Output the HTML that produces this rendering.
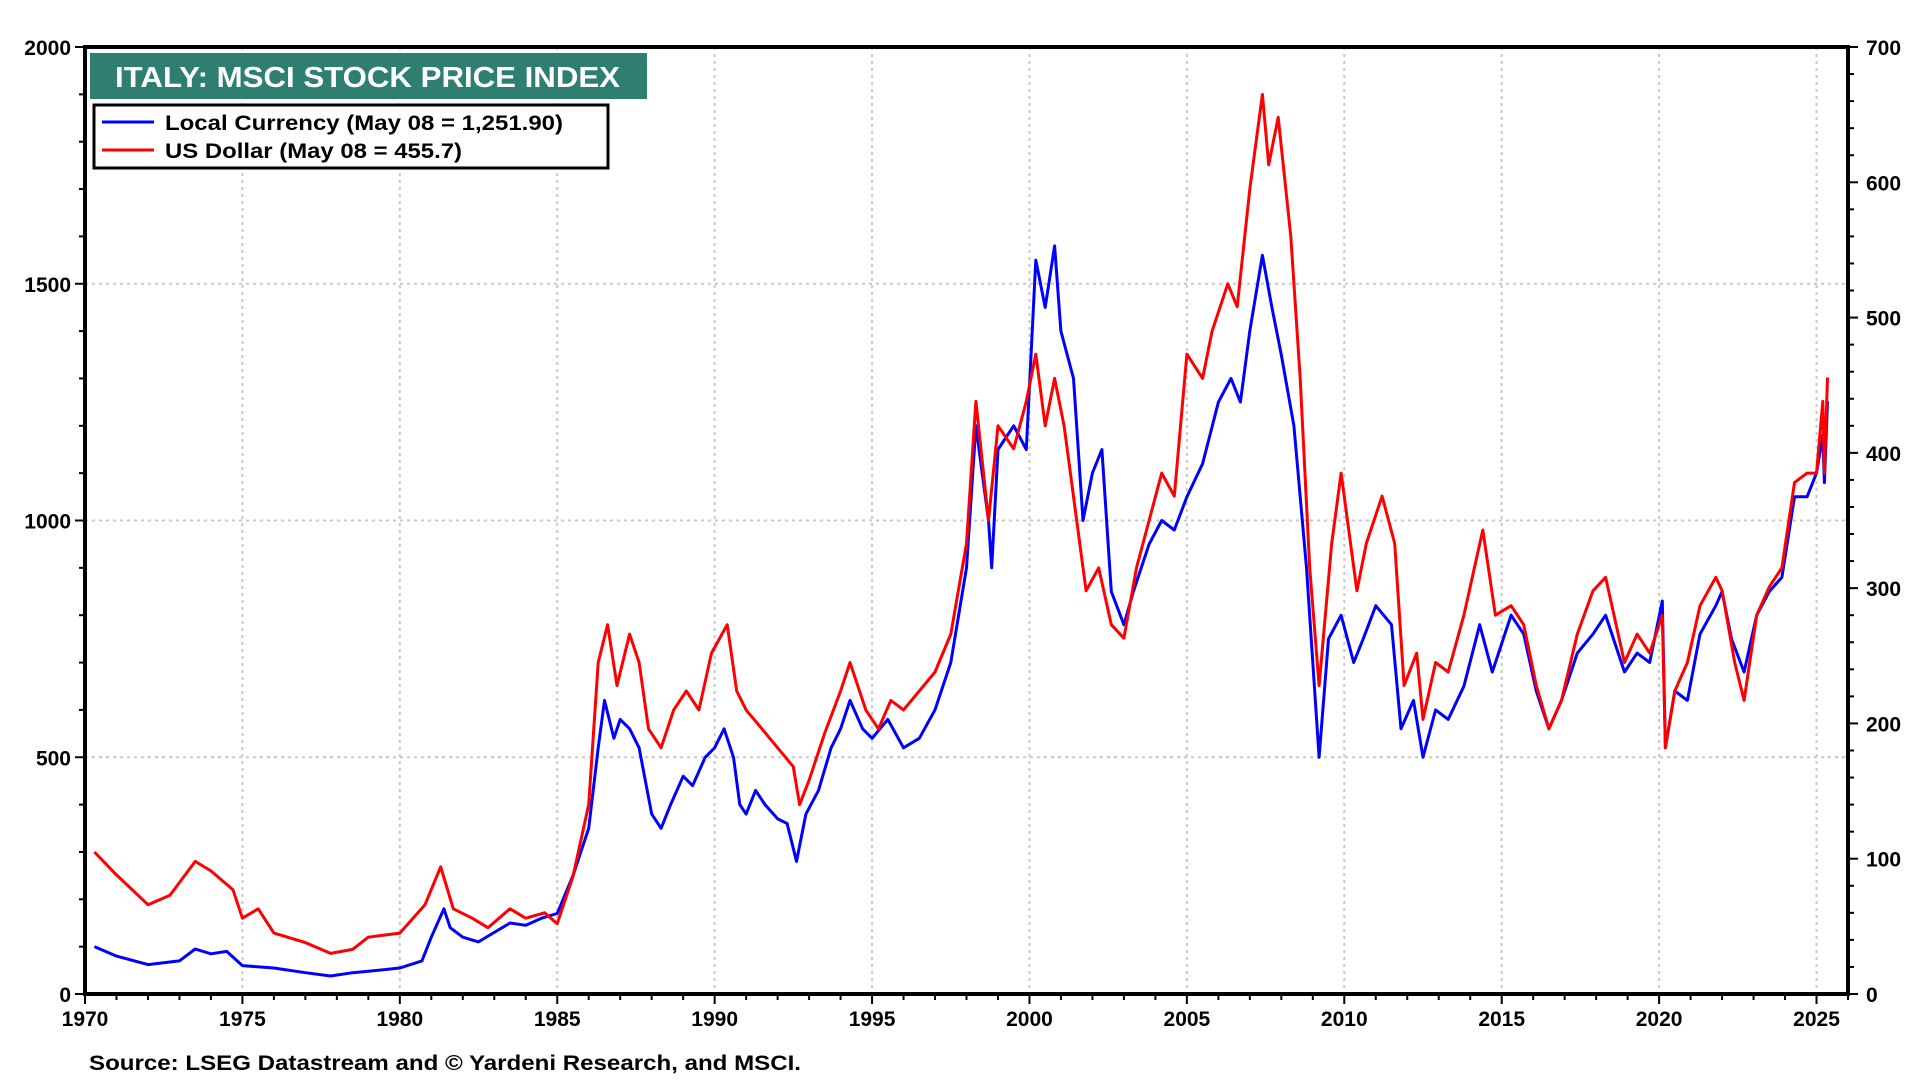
<!DOCTYPE html>
<html><head><meta charset="utf-8"><style>
html,body{margin:0;padding:0;background:#fff;width:1920px;height:1080px;overflow:hidden}
svg{display:block;font-family:"Liberation Sans",Arial,sans-serif;font-weight:bold}
</style></head><body>
<svg id="chart" width="1920" height="1080" viewBox="0 0 1920 1080">
<g id="grid"></g>
<g id="series"></g>
<g id="axes"></g>
<g>
<rect x="90" y="53" width="557" height="46" fill="#2e7f72"/>
<text x="115" y="87" font-size="29" fill="#fff" textLength="505" lengthAdjust="spacingAndGlyphs">ITALY: MSCI STOCK PRICE INDEX</text>
</g>
<g>
<rect x="94" y="105" width="514" height="63" fill="#fff" stroke="#000" stroke-width="3"/>
<g>
<line x1="102" y1="122" x2="154" y2="122" stroke="#0000ff" stroke-width="3"/>
<text x="165" y="130" font-size="21" textLength="398" lengthAdjust="spacingAndGlyphs">Local Currency (May 08 = 1,251.90)</text></g>
<g>
<line x1="102" y1="150" x2="154" y2="150" stroke="#ff0000" stroke-width="3"/>
<text x="165" y="158" font-size="21" textLength="297" lengthAdjust="spacingAndGlyphs">US Dollar (May 08 = 455.7)</text></g>
</g>
<text x="89" y="1070" font-size="21" textLength="712" lengthAdjust="spacingAndGlyphs">Source: LSEG Datastream and © Yardeni Research, and MSCI.</text>
</svg>
<script>
const localYears=[1970.3,1971,1972,1973,1973.5,1974,1974.5,1975,1976,1977,1977.8,1978.5,1979,1980,1980.7,1981,1981.4,1981.6,1982,1982.5,1983,1983.5,1984,1984.5,1985,1985.5,1986,1986.3,1986.5,1986.8,1987,1987.3,1987.6,1988,1988.3,1988.6,1989,1989.3,1989.7,1990,1990.3,1990.6,1990.8,1991,1991.3,1991.6,1992,1992.3,1992.6,1992.9,1993.3,1993.7,1994,1994.3,1994.7,1995,1995.5,1996,1996.5,1997,1997.5,1998,1998.3,1998.7,1998.8,1999,1999.5,1999.9,2000.2,2000.5,2000.8,2001,2001.4,2001.7,2002,2002.3,2002.6,2003,2003.3,2003.8,2004.2,2004.6,2005,2005.5,2006,2006.4,2006.7,2007,2007.4,2007.7,2008,2008.4,2008.8,2009.2,2009.5,2009.9,2010.3,2010.6,2011,2011.5,2011.8,2012.2,2012.5,2012.9,2013.3,2013.8,2014.3,2014.7,2015.3,2015.7,2016.1,2016.5,2016.9,2017.4,2017.9,2018.3,2018.9,2019.3,2019.7,2020.1,2020.2,2020.5,2020.9,2021.3,2021.8,2022.0,2022.3,2022.7,2023.1,2023.5,2023.9,2024.3,2024.7,2025.0,2025.2,2025.25,2025.35];
const localValues=[100,80,62,70,95,85,90,60,55,45,38,45,48,55,70,120,180,140,120,110,130,150,145,160,170,250,350,520,620,540,580,560,520,380,350,400,460,440,500,520,560,500,400,380,430,400,370,360,280,380,430,520,560,620,560,540,580,520,540,600,700,900,1200,1000,900,1150,1200,1150,1550,1450,1580,1400,1300,1000,1100,1150,850,780,850,950,1000,980,1050,1120,1250,1300,1250,1400,1560,1450,1350,1200,900,500,750,800,700,750,820,780,560,620,500,600,580,650,780,680,800,760,640,560,620,720,760,800,680,720,700,830,520,640,620,760,820,850,750,680,800,850,880,1050,1050,1100,1180,1080,1252];
const usdYears=[1970.3,1971,1972,1972.7,1973.5,1974,1974.7,1975,1975.5,1976,1977,1977.8,1978.5,1979,1980,1980.8,1981.3,1981.7,1982.3,1982.8,1983.5,1984,1984.6,1985,1985.5,1986,1986.3,1986.6,1986.9,1987.3,1987.6,1987.9,1988.3,1988.7,1989.1,1989.5,1989.9,1990.4,1990.7,1991,1991.5,1992,1992.5,1992.7,1993,1993.5,1994,1994.3,1994.8,1995.2,1995.6,1996,1996.5,1997,1997.5,1998,1998.3,1998.7,1999,1999.5,1999.9,2000.2,2000.5,2000.8,2001.1,2001.5,2001.8,2002.2,2002.6,2003,2003.4,2003.8,2004.2,2004.6,2005,2005.5,2005.8,2006.3,2006.6,2007,2007.4,2007.6,2007.9,2008.3,2008.6,2008.9,2009.2,2009.6,2009.9,2010.4,2010.7,2011.2,2011.6,2011.9,2012.3,2012.5,2012.9,2013.3,2013.8,2014.4,2014.8,2015.3,2015.7,2016.1,2016.5,2016.9,2017.4,2017.9,2018.3,2018.9,2019.3,2019.7,2020.1,2020.2,2020.5,2020.9,2021.3,2021.8,2022.0,2022.4,2022.7,2023.1,2023.5,2023.9,2024.3,2024.7,2025.0,2025.2,2025.25,2025.35];
const usdValues=[105,88,66,73,98,91,77,56,63,45,38,30,33,42,45,66,94,63,56,49,63,56,60,52,87,140,245,273,228,266,245,196,182,210,224,210,252,273,224,210,196,182,168,140,158,193,224,245,210,196,217,210,224,238,266,333,438,350,420,403,438,473,420,455,420,350,298,315,273,263,315,350,385,368,473,455,490,525,508,595,665,613,648,560,455,315,228,333,385,298,333,368,333,228,252,203,245,238,280,343,280,287,273,228,196,217,266,298,308,245,266,252,280,182,224,245,287,308,298,245,217,280,301,315,378,385,385,438,385,455.7];
const xTicks=[1970,1975,1980,1985,1990,1995,2000,2005,2010,2015,2020,2025];
const leftTicks=[0,500,1000,1500,2000];
const rightTicks=[0,100,200,300,400,500,600,700];

const L=85,R=1848,T=47,B=994;
const X0=1970,X1=2026.0;
const x=v=>L+(v-X0)/(X1-X0)*(R-L);
const yL=v=>B-v/2000*(B-T);
const yR=v=>B-v/700*(B-T);
const NS='http://www.w3.org/2000/svg';
function mk(tag,attrs,parent){const e=document.createElementNS(NS,tag);for(const k in attrs)e.setAttribute(k,attrs[k]);parent.appendChild(e);return e;}
const grid=document.getElementById('grid'),axes=document.getElementById('axes'),series=document.getElementById('series');
xTicks.forEach(t=>{if(t>X0){const g=mk('line',{x1:x(t),x2:x(t),y1:T,y2:B,stroke:'#c8c8c8','stroke-width':2,'stroke-dasharray':'3,4'},grid);

}});
[500,1000,1500].forEach(t=>{const g=mk('line',{x1:L,x2:R,y1:yL(t),y2:yL(t),stroke:'#c8c8c8','stroke-width':2,'stroke-dasharray':'3,4'},grid);

});
function path(xs,vs,fy,color,name){let d='';xs.forEach((t,i)=>{d+=(i?'L':'M')+x(t).toFixed(1)+','+fy(vs[i]).toFixed(1);});
const p=mk('path',{d:d,fill:'none',stroke:color,'stroke-width':3,'stroke-linejoin':'round'},series);

}
path(localYears,localValues,yL,'#0000ff','local-currency-line');
path(usdYears,usdValues,yR,'#ff0000','us-dollar-line');
mk('rect',{x:L,y:T,width:R-L,height:B-T,fill:'none',stroke:'#000','stroke-width':4},axes);
for(let yr=1970;yr<=2026;yr++){mk('line',{x1:x(yr),x2:x(yr),y1:B,y2:B+(yr%5==0?10:6),stroke:'#000','stroke-width':2},axes);}
xTicks.forEach(t=>{const e=mk('text',{x:x(t),y:B+32,'font-size':21,'text-anchor':'middle'},axes);e.textContent=t;

});
for(let v=0;v<=2000;v+=100){mk('line',{x1:L-(v%500==0?10:6),x2:L,y1:yL(v),y2:yL(v),stroke:'#000','stroke-width':2},axes);}
leftTicks.forEach(t=>{const e=mk('text',{x:L-14,y:yL(t)+8,'font-size':21,'text-anchor':'end'},axes);e.textContent=t;

});
for(let v=0;v<=700;v+=20){mk('line',{x1:R,x2:R+(v%100==0?10:6),y1:yR(v),y2:yR(v),stroke:'#000','stroke-width':2},axes);}
rightTicks.forEach(t=>{const e=mk('text',{x:R+18,y:yR(t)+8,'font-size':21,'text-anchor':'start'},axes);e.textContent=t;

});
</script>
</body></html>
